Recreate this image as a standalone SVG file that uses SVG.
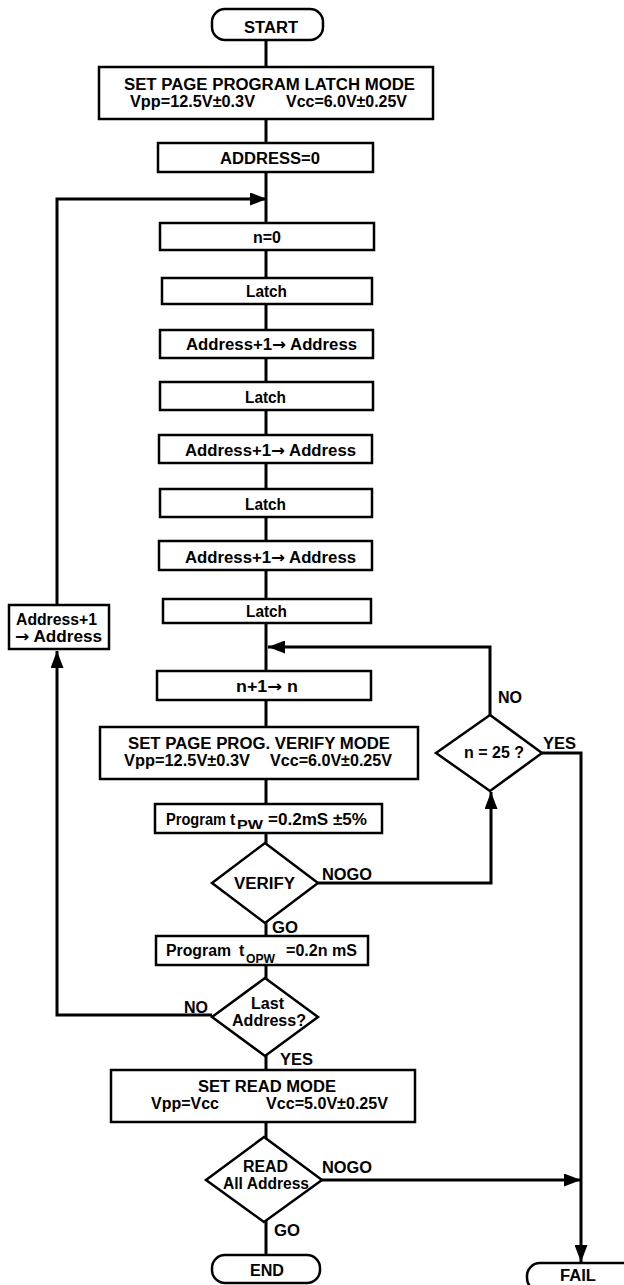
<svg xmlns="http://www.w3.org/2000/svg" width="624" height="1285" viewBox="0 0 624 1285">
<style>
.t{font-family:"Liberation Sans",Arial,sans-serif;font-weight:bold;font-size:16px;fill:#000}
.s{font-size:12px}
.ar{font-family:"DejaVu Sans",sans-serif}
.box{fill:#fff;stroke:#000;stroke-width:2.5}
.ln{fill:none;stroke:#000;stroke-width:3}
</style>
<defs>
<marker id="ah" markerUnits="userSpaceOnUse" markerWidth="17" markerHeight="13" refX="17" refY="6.5" orient="auto">
<path d="M0,0 L17,6.5 L0,13 z" fill="#000"/>
</marker>
</defs>
<rect width="624" height="1285" fill="#fff"/>
<g id="connectors">
<path class="ln" d="M266,40 V1255"/>
<path class="ln" d="M57,605 V199 H267" marker-end="url(#ah)"/>
<path class="ln" d="M212,1015 H57 V651" marker-end="url(#ah)"/>
<path class="ln" d="M318,883 H491 V792" marker-end="url(#ah)"/>
<path class="ln" d="M490,715 V647 H268" marker-end="url(#ah)"/>
<path class="ln" d="M542,753 H581 V1262" marker-end="url(#ah)"/>
<path class="ln" d="M322,1180 H581" marker-end="url(#ah)"/>
<text class="t" x="498" y="703" textLength="24" lengthAdjust="spacingAndGlyphs">NO</text>
<text class="t" x="543" y="749" textLength="33" lengthAdjust="spacingAndGlyphs">YES</text>
<text class="t" x="322" y="880" textLength="50" lengthAdjust="spacingAndGlyphs">NOGO</text>
<text class="t" x="272" y="933" textLength="26" lengthAdjust="spacingAndGlyphs">GO</text>
<text class="t" x="184" y="1013" textLength="24" lengthAdjust="spacingAndGlyphs">NO</text>
<text class="t" x="280" y="1065" textLength="33" lengthAdjust="spacingAndGlyphs">YES</text>
<text class="t" x="322" y="1173" textLength="50" lengthAdjust="spacingAndGlyphs">NOGO</text>
<text class="t" x="274" y="1236" textLength="26" lengthAdjust="spacingAndGlyphs">GO</text>
</g>
<g id="start">
<rect class="box" x="212" y="9" width="111" height="31" rx="13"/>
<text class="t" x="244" y="33" textLength="54" lengthAdjust="spacingAndGlyphs">START</text>
</g>
<g id="latchMode">
<rect class="box" x="99" y="67" width="334" height="52"/>
<text class="t" x="124" y="90" textLength="291" lengthAdjust="spacingAndGlyphs">SET PAGE PROGRAM LATCH MODE</text>
<text class="t" x="130" y="107" textLength="125" lengthAdjust="spacingAndGlyphs">Vpp=12.5V±0.3V</text>
<text class="t" x="286" y="107" textLength="121" lengthAdjust="spacingAndGlyphs">Vcc=6.0V±0.25V</text>
</g>
<g id="address0">
<rect class="box" x="158" y="143" width="215" height="29"/>
<text class="t" x="220" y="164" textLength="100" lengthAdjust="spacingAndGlyphs">ADDRESS=0</text>
</g>
<g id="n0">
<rect class="box" x="160" y="223" width="214" height="27"/>
<text class="t" x="253" y="243" textLength="28" lengthAdjust="spacingAndGlyphs">n=0</text>
</g>
<g id="latch1">
<rect class="box" x="162" y="278" width="210" height="26"/>
<text class="t" x="246" y="297" textLength="41" lengthAdjust="spacingAndGlyphs">Latch</text>
</g>
<g id="addr1">
<rect class="box" x="160" y="330" width="213" height="28"/>
<text class="t" x="186" y="350" textLength="171" lengthAdjust="spacingAndGlyphs">Address+1<tspan class="ar">→</tspan> Address</text>
</g>
<g id="latch2">
<rect class="box" x="160" y="382" width="213" height="28"/>
<text class="t" x="245" y="403" textLength="41" lengthAdjust="spacingAndGlyphs">Latch</text>
</g>
<g id="addr2">
<rect class="box" x="159" y="435" width="213" height="28"/>
<text class="t" x="185" y="456" textLength="171" lengthAdjust="spacingAndGlyphs">Address+1<tspan class="ar">→</tspan> Address</text>
</g>
<g id="latch3">
<rect class="box" x="160" y="489" width="212" height="28"/>
<text class="t" x="245" y="510" textLength="41" lengthAdjust="spacingAndGlyphs">Latch</text>
</g>
<g id="addr3">
<rect class="box" x="159" y="541" width="213" height="29"/>
<text class="t" x="185" y="563" textLength="171" lengthAdjust="spacingAndGlyphs">Address+1<tspan class="ar">→</tspan> Address</text>
</g>
<g id="latch4">
<rect class="box" x="163" y="599" width="208" height="24"/>
<text class="t" x="246" y="617" textLength="41" lengthAdjust="spacingAndGlyphs">Latch</text>
</g>
<g id="incN">
<rect class="box" x="157" y="671" width="214" height="29"/>
<text class="t" x="236" y="692" textLength="62" lengthAdjust="spacingAndGlyphs">n+1<tspan class="ar">→</tspan> n</text>
</g>
<g id="verifyMode">
<rect class="box" x="100" y="727" width="318" height="52"/>
<text class="t" x="128" y="749" textLength="262" lengthAdjust="spacingAndGlyphs">SET PAGE PROG. VERIFY MODE</text>
<text class="t" x="124" y="766" textLength="126" lengthAdjust="spacingAndGlyphs">Vpp=12.5V±0.3V</text>
<text class="t" x="270" y="766" textLength="122" lengthAdjust="spacingAndGlyphs">Vcc=6.0V±0.25V</text>
</g>
<g id="programPW">
<rect class="box" x="155" y="804" width="227" height="29"/>
<text class="t" x="166" y="825" textLength="60" lengthAdjust="spacingAndGlyphs">Program</text>
<text class="t" x="230" y="825">t</text>
<text class="t s" x="237" y="829" textLength="26" lengthAdjust="spacingAndGlyphs">PW</text>
<text class="t" x="268" y="825" textLength="99" lengthAdjust="spacingAndGlyphs">=0.2mS ±5%</text>
</g>
<g id="verify">
<polygon class="box" points="265,843 318,883 265,923 212,883"/>
<text class="t" x="234" y="889" textLength="61" lengthAdjust="spacingAndGlyphs">VERIFY</text>
</g>
<g id="programOPW">
<rect class="box" x="156" y="936" width="212" height="29"/>
<text class="t" x="166" y="956" textLength="65" lengthAdjust="spacingAndGlyphs">Program</text>
<text class="t" x="239" y="956">t</text>
<text class="t s" x="246" y="963" textLength="29" lengthAdjust="spacingAndGlyphs">OPW</text>
<text class="t" x="286" y="956" textLength="71" lengthAdjust="spacingAndGlyphs">=0.2n mS</text>
</g>
<g id="lastAddress">
<polygon class="box" points="265,978 318,1017 265,1056 212,1017"/>
<text class="t" x="251" y="1009" textLength="33" lengthAdjust="spacingAndGlyphs">Last</text>
<text class="t" x="232" y="1026" textLength="74" lengthAdjust="spacingAndGlyphs">Address?</text>
</g>
<g id="readMode">
<rect class="box" x="111" y="1070" width="304" height="52"/>
<text class="t" x="198" y="1092" textLength="138" lengthAdjust="spacingAndGlyphs">SET READ MODE</text>
<text class="t" x="151" y="1109" textLength="68" lengthAdjust="spacingAndGlyphs">Vpp=Vcc</text>
<text class="t" x="266" y="1109" textLength="122" lengthAdjust="spacingAndGlyphs">Vcc=5.0V±0.25V</text>
</g>
<g id="readAll">
<polygon class="box" points="264,1137 322,1180 264,1222 206,1180"/>
<text class="t" x="243" y="1172" textLength="45" lengthAdjust="spacingAndGlyphs">READ</text>
<text class="t" x="223" y="1189" textLength="86" lengthAdjust="spacingAndGlyphs">All Address</text>
</g>
<g id="end">
<rect class="box" x="212" y="1255" width="108" height="28" rx="13"/>
<text class="t" x="250" y="1276" textLength="34" lengthAdjust="spacingAndGlyphs">END</text>
</g>
<g id="fail">
<rect class="box" x="527" y="1263" width="110" height="28" rx="13"/>
<text class="t" x="560" y="1281" textLength="36" lengthAdjust="spacingAndGlyphs">FAIL</text>
</g>
<g id="n25">
<polygon class="box" points="490,715 542,753 490,791 436,753"/>
<text class="t" x="464" y="758" textLength="60" lengthAdjust="spacingAndGlyphs">n = 25 ?</text>
</g>
<g id="addrInc">
<rect class="box" x="9" y="605" width="100" height="44"/>
<text class="t" x="16" y="625" textLength="81" lengthAdjust="spacingAndGlyphs">Address+1</text>
<text class="t" x="15" y="642" textLength="87" lengthAdjust="spacingAndGlyphs"><tspan class="ar">→</tspan> Address</text>
</g>
</svg>
